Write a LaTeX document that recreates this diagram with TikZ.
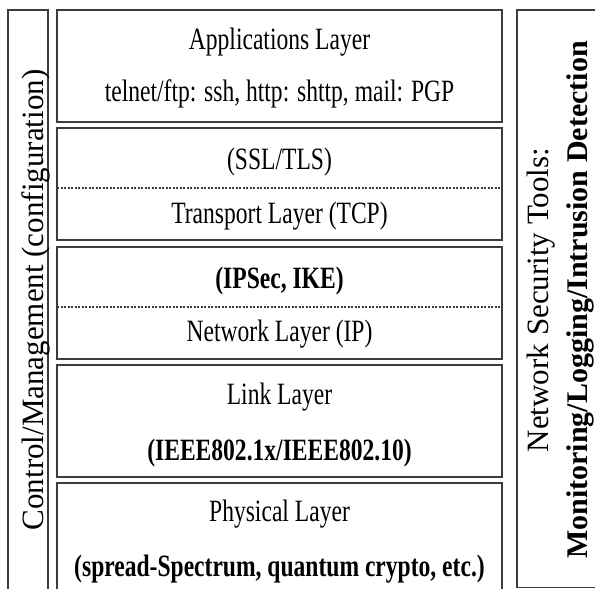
\documentclass[tikz,border=0pt]{standalone}
\usepackage{fontspec}
% condensed serif for the horizontal labels, normal width for the rotated ones
\setmainfont{Liberation Serif}[FakeStretch=0.76]
\newfontfamily\sidefont{Liberation Serif}
\definecolor{linegray}{HTML}{3C3C3C}
\begin{document}
\begin{tikzpicture}[x=1pt,y=-1pt,
  frame/.style={draw=linegray, line width=1.8pt, inner sep=0pt, rectangle},
  layerbox/.style={frame, minimum width=445pt, minimum height=112pt},
  sepline/.style={draw=linegray, line width=1.1pt, dash pattern=on 2.2pt off 1.3pt},
  txt/.style={font=\fontsize{31}{36}\selectfont, anchor=base, inner sep=0pt},
  sidetxt/.style={font=\sidefont\fontsize{31}{36}\selectfont, anchor=base, inner sep=0pt, rotate=90}]
  \clip (0,0) rectangle (595,589);

  % side columns
  \node[frame, minimum width=40pt, minimum height=590pt] (ctrl) at (28,305) {};
  \node[frame, minimum width=93pt, minimum height=577.5pt] (tools) at (563.5,298.75) {};

  % protocol stack
  \node[layerbox] (app)  at (279.5,66)  {};
  \node[layerbox] (tran) at (279.5,184) {};
  \node[layerbox] (net)  at (279.5,303) {};
  \node[layerbox] (link) at (279.5,421) {};
  \node[layerbox] (phy)  at (279.5,539) {};

  \coordinate (ta) at (57,188);  \coordinate (tb) at (502,188);
  \coordinate (na) at (57,307);  \coordinate (nb) at (502,307);
  \draw[sepline] (ta) -- (tb);
  \draw[sepline] (na) -- (nb);

  % layer labels
  \node[txt] (appA) at (279.5,49)  {Applications Layer};
  \node[txt] (appB) at (279.5,101) {telnet/ftp: ssh, http: shttp, mail: PGP};
  \node[txt] (ssl)  at (279.5,169) {(SSL/TLS)};
  \node[txt] (tcp)  at (279.5,223) {Transport Layer (TCP)};
  \node[txt, font=\fontsize{31}{36}\selectfont\bfseries] (ips) at (279.5,288) {(IPSec, IKE)};
  \node[txt] (ip)   at (279.5,341) {Network Layer (IP)};
  \node[txt] (lnkA) at (279.5,404) {Link Layer};
  \node[txt, font=\fontsize{31}{36}\selectfont\bfseries] (lnkB) at (279.5,460) {(IEEE802.1x/IEEE802.10)};
  \node[txt] (phyA) at (279.5,521) {Physical Layer};
  \node[txt, font=\fontsize{31}{36}\selectfont\bfseries] (phyB) at (279.5,576) {(spread-Spectrum, quantum crypto, etc.)};

  % rotated side labels
  \node[sidetxt] (ctrlT) at (43,300) {Control/Management (configuration)};
  \node[sidetxt] (toolA) at (548,300) {Network Security Tools:};
  \node[sidetxt, font=\sidefont\fontsize{30}{36}\selectfont\bfseries] (toolB) at (587,300) {Monitoring/Logging/Intrusion Detection};
\end{tikzpicture}
\end{document}
